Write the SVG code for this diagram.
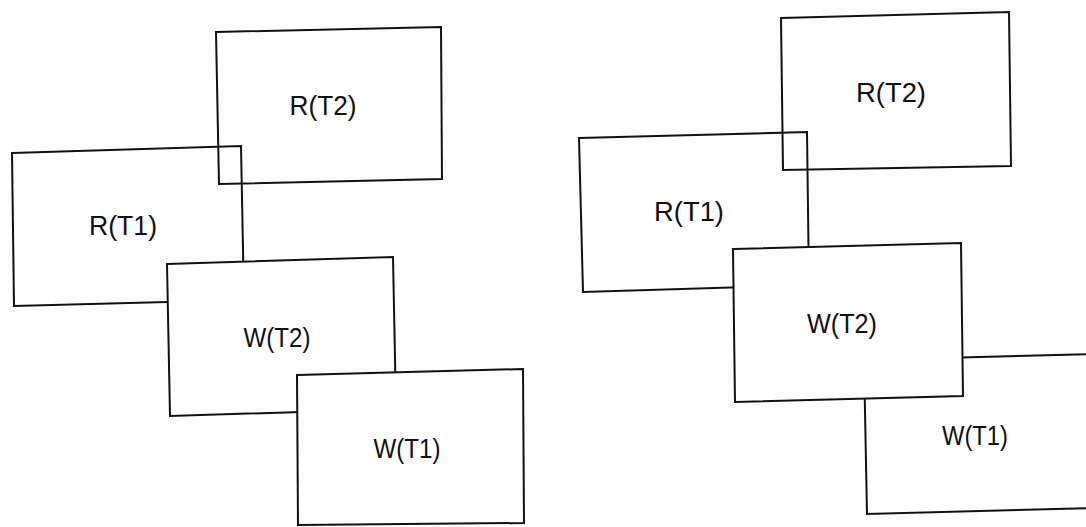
<svg xmlns="http://www.w3.org/2000/svg" width="1086" height="527" viewBox="0 0 1086 527">
<style>
.r{fill:none;stroke:#111;stroke-width:2;stroke-linejoin:miter}
.w{fill:#fff;stroke:#111;stroke-width:2;stroke-linejoin:miter}
.t{font-family:"Liberation Sans",Arial,sans-serif;font-size:27.5px;fill:#111;text-anchor:middle}
</style>
<rect width="1086" height="527" fill="#fff"/>
<g id="connectors"/>
<g id="left">
<g id="L-R-T2"><polygon class="r" points="216,32 441,27 442,179 219,184"/><text class="t" x="323" y="115" textLength="67" lengthAdjust="spacingAndGlyphs">R(T2)</text></g>
<g id="L-R-T1"><polygon class="r" points="12,153 241,146 244,300 14,306"/><text class="t" x="123" y="235" textLength="68" lengthAdjust="spacingAndGlyphs">R(T1)</text></g>
<g id="L-W-T2"><polygon class="w" points="167,264 393,257 396,409 170,416"/><text class="t" x="277" y="347" textLength="67" lengthAdjust="spacingAndGlyphs">W(T2)</text></g>
<g id="L-W-T1"><polygon class="w" points="297,375 523,369 524,523 298,525"/><text class="t" x="407" y="458" textLength="67" lengthAdjust="spacingAndGlyphs">W(T1)</text></g>
</g>
<g id="right">
<g id="R-R-T2"><polygon class="r" points="781,18 1009,12 1011,166 783,170"/><text class="t" x="891" y="102" textLength="70" lengthAdjust="spacingAndGlyphs">R(T2)</text></g>
<g id="R-R-T1"><polygon class="r" points="579,138 807,132 809,285 583,292"/><text class="t" x="689" y="221" textLength="70" lengthAdjust="spacingAndGlyphs">R(T1)</text></g>
<g id="R-W-T1"><polygon class="w" points="864,360 1092,354 1092,508 867,514"/><text class="t" x="975" y="445" textLength="66" lengthAdjust="spacingAndGlyphs">W(T1)</text></g>
<g id="R-W-T2"><polygon class="w" points="733,249 961,243 963,396 735,402"/><text class="t" x="842" y="333" textLength="70" lengthAdjust="spacingAndGlyphs">W(T2)</text></g>
</g>
</svg>
